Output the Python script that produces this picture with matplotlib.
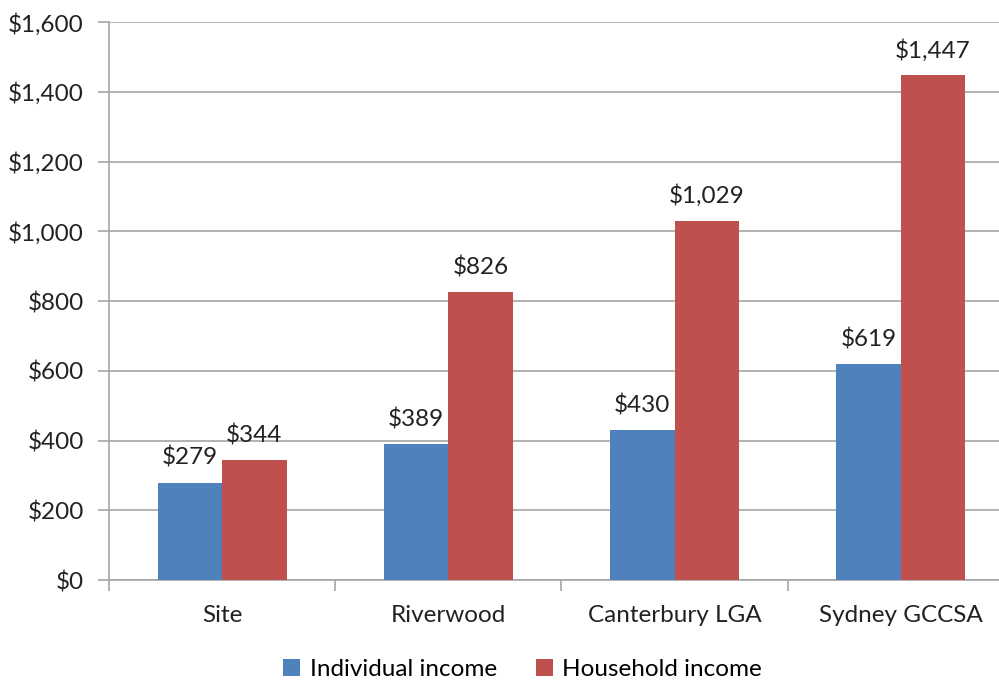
import matplotlib
matplotlib.use("Agg")
import matplotlib.pyplot as plt
import numpy as np

categories = ["Site", "Riverwood", "Canterbury LGA", "Sydney GCCSA"]
individual = [279, 389, 430, 619]
household = [344, 826, 1029, 1447]
series_names = ["Individual income", "Household income"]
yticks = [0, 200, 400, 600, 800, 1000, 1200, 1400, 1600]

plt.rcParams['font.family'] = ['Lato', 'DejaVu Sans']
fs = 17.5

fig = plt.figure(figsize=(9.99, 6.8), dpi=100)
ax = fig.add_axes([0.109, 0.147, 0.906, 0.8206])

x = np.arange(len(categories))
w = 0.285
blue = "#4F81BD"
red = "#C0504D"
b1 = ax.bar(x - w / 2, individual, w, color=blue, label=series_names[0], zorder=3)
b2 = ax.bar(x + w / 2, household, w, color=red, label=series_names[1], zorder=3)

for bars, vals in ((b1, individual), (b2, household)):
    for bar, v in zip(bars, vals):
        ax.text(bar.get_x() + bar.get_width() / 2, v + 40, f"${v:,}",
                ha="center", va="bottom", fontsize=fs, color="#222222")

ax.set_xlim(-0.5, len(categories) - 0.5)
ax.set_ylim(0, 1600)
ax.set_yticks(yticks)
ax.set_yticklabels([f"${t:,}" for t in yticks], fontsize=fs, color="#222222")
ax.yaxis.grid(True, color="#a6a6a6", linewidth=1.2, zorder=0)

ax.set_xticks(x)
ax.set_xticklabels(categories, fontsize=fs, color="#222222")
ax.set_xticks(np.arange(len(categories) + 1) - 0.5, minor=True)
ax.tick_params(axis="x", which="major", length=0, pad=18)
ax.tick_params(axis="x", which="minor", length=8, color="#a6a6a6", width=1.2)
ax.tick_params(axis="y", length=8, color="#a6a6a6", width=1.2, pad=10)

for s in ["top", "right"]:
    ax.spines[s].set_visible(False)
for s in ["left", "bottom"]:
    ax.spines[s].set_color("#a6a6a6")
    ax.spines[s].set_linewidth(1.2)

fig.legend(handles=[b1, b2], loc="center", bbox_to_anchor=(0.523, 0.015),
           ncol=2, frameon=False, fontsize=fs, handlelength=0.7, handleheight=0.7,
           columnspacing=1.6, handletextpad=0.4, borderaxespad=0)

fig.savefig("out.png", dpi=100)
